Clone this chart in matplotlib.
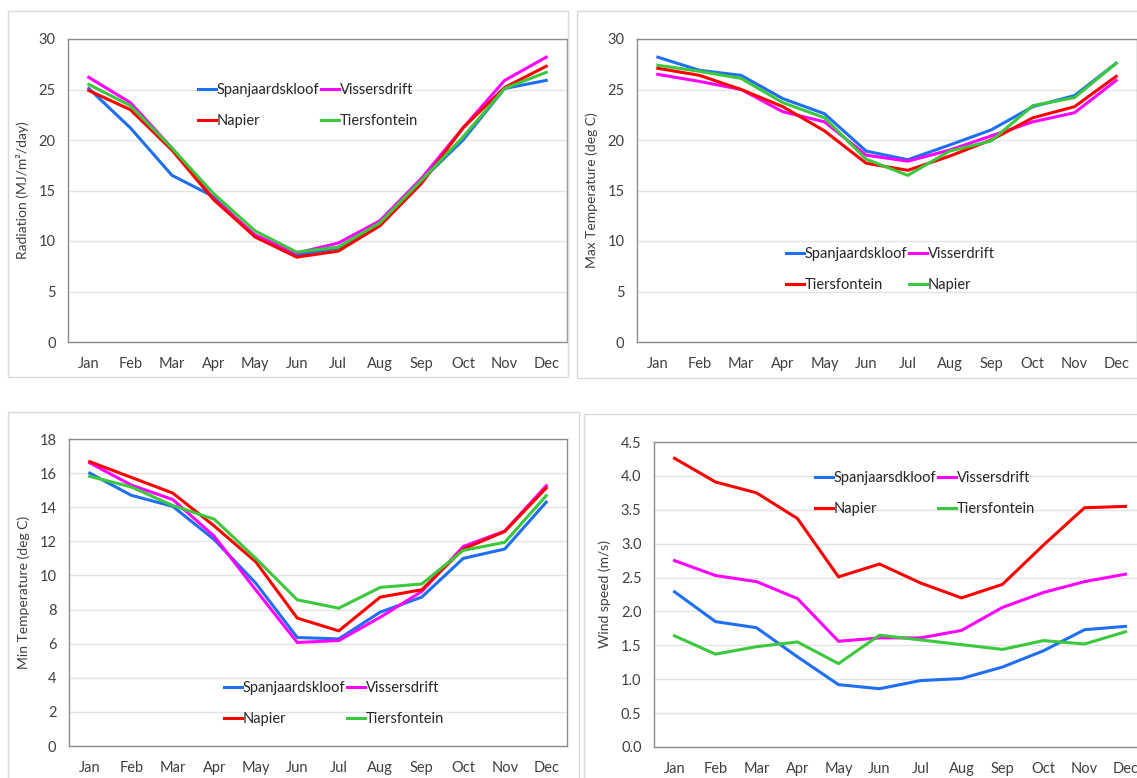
import matplotlib.pyplot as plt
from matplotlib.patches import Rectangle

plt.rcParams['font.family'] = ['Lato', 'DejaVu Sans']

W, H = 1137, 778

months = ['Jan', 'Feb', 'Mar', 'Apr', 'May', 'Jun', 'Jul', 'Aug', 'Sep', 'Oct', 'Nov', 'Dec']

# radiation (MJ/m2/day)
rad_spanj = [25.1, 21.2, 16.5, 14.4, 10.4, 8.6, 9.3, 11.7, 16.0, 20.0, 25.1, 25.9]
rad_visser = [26.2, 23.7, 19.2, 14.2, 10.6, 8.8, 9.8, 12.0, 16.2, 21.2, 25.9, 28.2]
rad_napier = [24.9, 23.0, 19.0, 14.1, 10.4, 8.4, 9.0, 11.5, 15.7, 21.2, 25.2, 27.3]
rad_tiers = [25.5, 23.4, 19.2, 14.7, 11.0, 8.9, 9.4, 11.8, 16.0, 20.3, 25.1, 26.7]

# max temperature (deg C)
tmax_spanj = [28.2, 26.9, 26.4, 24.1, 22.6, 18.9, 18.05, 19.5, 21.0, 23.3, 24.4, 27.6]
tmax_visser = [26.5, 25.8, 25.0, 22.8, 21.8, 18.5, 17.9, 19.0, 20.4, 21.8, 22.7, 25.9]
tmax_tiers = [27.1, 26.4, 25.0, 23.3, 20.9, 17.7, 17.0, 18.4, 20.0, 22.2, 23.3, 26.3]
tmax_napier = [27.4, 26.8, 26.1, 23.7, 22.2, 18.1, 16.5, 18.9, 19.9, 23.4, 24.2, 27.6]

# min temperature (deg C)
tmin_spanj = [16.0, 14.7, 14.05, 12.1, 9.55, 6.36, 6.28, 7.85, 8.73, 11.0, 11.55, 14.3]
tmin_visser = [16.6, 15.3, 14.45, 12.3, 9.15, 6.07, 6.18, 7.55, 9.06, 11.7, 12.6, 15.26]
tmin_napier = [16.67, 15.75, 14.83, 12.9, 10.8, 7.5, 6.75, 8.73, 9.16, 11.55, 12.58, 15.13]
tmin_tiers = [15.81, 15.19, 14.1, 13.3, 11.0, 8.57, 8.08, 9.3, 9.5, 11.47, 11.94, 14.68]

# wind speed (m/s)
wind_spanj = [2.29, 1.85, 1.76, 1.33, 0.92, 0.86, 0.98, 1.01, 1.18, 1.42, 1.73, 1.78]
wind_visser = [2.75, 2.53, 2.44, 2.19, 1.56, 1.61, 1.61, 1.72, 2.06, 2.28, 2.44, 2.55]
wind_napier = [4.26, 3.91, 3.75, 3.37, 2.51, 2.70, 2.42, 2.20, 2.40, 2.98, 3.53, 3.55]
wind_tiers = [1.64, 1.37, 1.48, 1.55, 1.23, 1.65, 1.58, 1.51, 1.44, 1.57, 1.52, 1.70]

BLUE = '#1f6ff2'
MAGENTA = '#ff00ff'
RED = '#ff0000'
GREEN = '#3cc83c'
TXT = '#404040'

fig = plt.figure(figsize=(W / 100, H / 100), dpi=100)


def box(l, t, r, b):
    fig.patches.append(Rectangle((l / W, 1 - b / H), (r - l) / W, (b - t) / H,
                                 transform=fig.transFigure, fill=False,
                                 edgecolor='#d9d9d9', lw=1.0))


def panel(l, t, r, b, ymax, ystep, ylabel, fmt):
    ax = fig.add_axes([l / W, 1 - b / H, (r - l) / W, (b - t) / H])
    ax.set_xlim(-0.5, 11.5)
    ax.set_ylim(0, ymax)
    n = int(round(ymax / ystep))
    ticks = [i * ystep for i in range(n + 1)]
    ax.set_yticks(ticks)
    ax.set_yticklabels([fmt.format(v) for v in ticks])
    ax.set_xticks(range(12))
    ax.set_xticklabels(months)
    ax.tick_params(length=0, labelsize=10.5, colors=TXT)
    ax.tick_params(axis='x', pad=11)
    ax.tick_params(axis='y', pad=9)
    for s in ax.spines.values():
        s.set_color('#8c8c8c')
        s.set_linewidth(1.0)
    ax.grid(axis='y', color='#e4e4e4', lw=1.0)
    ax.set_axisbelow(True)
    ax.set_ylabel(ylabel, fontsize=10, color=TXT, labelpad=7)
    return ax


def legend(ax, lines, order, x, y):
    hs = [lines[i] for i in order]
    ax.legend(hs, [h.get_label() for h in hs], ncol=2, frameon=False,
              loc='upper left', bbox_to_anchor=(x / W, 1 - y / H),
              bbox_transform=fig.transFigure, fontsize=10.5, handlelength=1.2,
              handletextpad=0.1, columnspacing=0.1, labelspacing=1.19,
              borderpad=0, borderaxespad=0, labelcolor='#262626')


x = range(12)
lw = 2.2

# radiation
box(8, 11, 568, 377)
ax1 = panel(68, 39, 567, 342, 30, 5, 'Radiation (MJ/m\u00b2/day)', '{:.0f}')
l1 = [ax1.plot(x, rad_spanj, color=BLUE, lw=lw, label='Spanjaardskloof')[0],
      ax1.plot(x, rad_visser, color=MAGENTA, lw=lw, label='Vissersdrift')[0],
      ax1.plot(x, rad_napier, color=RED, lw=lw, label='Napier')[0],
      ax1.plot(x, rad_tiers, color=GREEN, lw=lw, label='Tiersfontein')[0]]
legend(ax1, l1, [0, 2, 1, 3], 198, 83)

# max temperature
box(577, 11, 1140, 378)
ax2 = panel(637, 39, 1137, 342, 30, 5, 'Max Temperature (deg C)', '{:.0f}')
l2 = [ax2.plot(x, tmax_spanj, color=BLUE, lw=lw, label='Spanjaardskloof')[0],
      ax2.plot(x, tmax_visser, color=MAGENTA, lw=lw, label='Visserdrift')[0],
      ax2.plot(x, tmax_tiers, color=RED, lw=lw, label='Tiersfontein')[0],
      ax2.plot(x, tmax_napier, color=GREEN, lw=lw, label='Napier')[0]]
legend(ax2, l2, [0, 2, 1, 3], 786, 247)

# min temperature
box(8, 412, 579, 790)
ax3 = panel(69, 439, 567, 746, 18, 2, 'Min Temperature (deg C)', '{:.0f}')
l3 = [ax3.plot(x, tmin_spanj, color=BLUE, lw=lw, label='Spanjaardskloof')[0],
      ax3.plot(x, tmin_visser, color=MAGENTA, lw=lw, label='Vissersdrift')[0],
      ax3.plot(x, tmin_napier, color=RED, lw=lw, label='Napier')[0],
      ax3.plot(x, tmin_tiers, color=GREEN, lw=lw, label='Tiersfontein')[0]]
legend(ax3, l3, [0, 2, 1, 3], 224, 681)

# wind speed
box(584, 414, 1150, 790)
ax4 = panel(654, 442, 1146, 747, 4.5, 0.5, 'Wind speed (m/s)', '{:.1f}')
l4 = [ax4.plot(x, wind_spanj, color=BLUE, lw=lw, label='Spanjaarsdkloof')[0],
      ax4.plot(x, wind_visser, color=MAGENTA, lw=lw, label='Vissersdrift')[0],
      ax4.plot(x, wind_napier, color=RED, lw=lw, label='Napier')[0],
      ax4.plot(x, wind_tiers, color=GREEN, lw=lw, label='Tiersfontein')[0]]
legend(ax4, l4, [0, 2, 1, 3], 815, 471)

fig.savefig('out.png', dpi=100)
